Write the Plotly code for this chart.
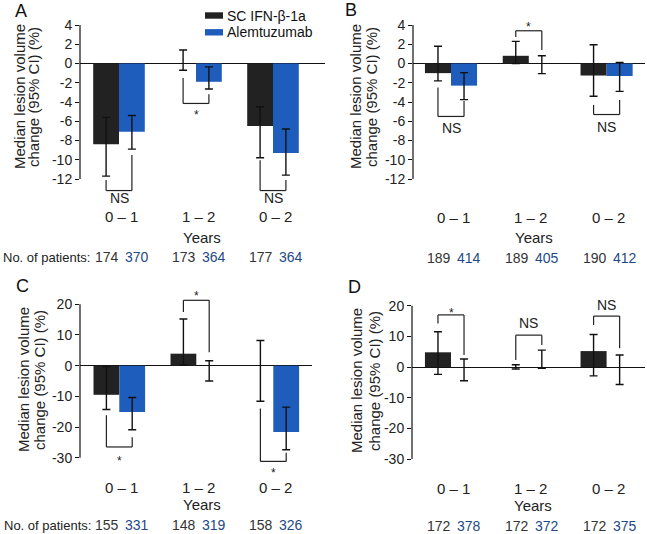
import plotly.graph_objects as go

W, H = 647, 534

periods = ["0 – 1", "1 – 2", "0 – 2"]
series_names = ["SC IFN-β-1a", "Alemtuzumab"]

# ---- data (median % change, 95% CI bounds, patient numbers) ----
a_ifn = [-8.4, 0.0, -6.5]
a_ifn_hi = [-5.6, 1.4, -4.5]
a_ifn_lo = [-11.7, -0.7, -9.8]
a_alem = [-7.1, -1.9, -9.3]
a_alem_hi = [-5.4, -0.35, -6.8]
a_alem_lo = [-8.9, -2.65, -11.6]
a_n_ifn = [174, 173, 177]
a_n_alem = [370, 364, 364]
a_sig = ["NS", "*", "NS"]

b_ifn = [-1.0, 0.8, -1.25]
b_ifn_hi = [1.8, 2.3, 1.95]
b_ifn_lo = [-1.8, 0.0, -3.4]
b_alem = [-2.3, 0.0, -1.3]
b_alem_hi = [-0.95, 0.8, 0.1]
b_alem_lo = [-3.75, -1.05, -2.9]
b_n_ifn = [189, 189, 190]
b_n_alem = [414, 405, 412]
b_sig = ["NS", "*", "NS"]

c_ifn = [-9.5, 3.9, 0.0]
c_ifn_hi = [-0.3, 15.2, 8.2]
c_ifn_lo = [-14.3, 0.2, -11.6]
c_alem = [-15.1, 0.0, -21.6]
c_alem_hi = [-10.4, 1.6, -13.5]
c_alem_lo = [-20.9, -5.0, -27.4]
c_n_ifn = [155, 148, 158]
c_n_alem = [331, 319, 326]
c_sig = ["*", "*", "*"]

d_ifn = [4.8, 0.0, 5.2]
d_ifn_hi = [11.5, 0.75, 10.6]
d_ifn_lo = [-2.4, -0.65, -2.9]
d_alem = [0.0, 0.0, 0.0]
d_alem_hi = [2.6, 5.5, 3.9]
d_alem_lo = [-4.5, -0.45, -5.7]
d_n_ifn = [172, 172, 172]
d_n_alem = [378, 372, 375]
d_sig = ["*", "NS", "NS"]

ab_tickvals = [4, 2, 0, -2, -4, -6, -8, -10, -12]
ab_ticktext = ["4", "2", "0", "-2", "-4", "-6", "-8", "-10", "-12"]
cd_tickvals = [20, 10, 0, -10, -20, -30]
cd_ticktext = ["20", "10", "0", "-10", "-20", "-30"]

# ---- layout / placement (pixels) ----
BLACK = "#222222"
BLUE = "#1f5dbd"
NAVY = "#1d4a86"
FONT = "Liberation Sans, Arial, sans-serif"
BARGAP = 0.33

panels = [
    dict(letter="A", ifn=a_ifn, ifn_hi=a_ifn_hi, ifn_lo=a_ifn_lo,
         alem=a_alem, alem_hi=a_alem_hi, alem_lo=a_alem_lo,
         n_ifn=a_n_ifn, n_alem=a_n_alem, sig=a_sig,
         tv=ab_tickvals, tt=ab_ticktext,
         xpx=(80, 325), c0=119, sp=77, ytop=(4, 25), ybot=(-12, 179), dom=(18, 205),
         # bracket: (level, left leg start, right leg start, label y)
         br=[(-13.2, -12.1, -9.5, -14.0), (-4.15, -1.5, -3.2, -5.0), (-13.2, -10.05, -12.1, -14.0)],
         letter_pos=(21, 11), title_x=(19, 33), title_y=97,
         cat_y=216, years=(202, 237), n_y=257, npat=92),
    dict(letter="B", ifn=b_ifn, ifn_hi=b_ifn_hi, ifn_lo=b_ifn_lo,
         alem=b_alem, alem_hi=b_alem_hi, alem_lo=b_alem_lo,
         n_ifn=b_n_ifn, n_alem=b_n_alem, sig=b_sig,
         tv=ab_tickvals, tt=ab_ticktext,
         xpx=(413, 645), c0=451, sp=77.8, ytop=(4, 25), ybot=(-12, 179), dom=(18, 205),
         br=[(-5.5, -2.5, -3.9, -6.7), (3.4, 2.75, 1.4, 4.1), (-5.3, -4.3, -3.8, -6.6)],
         letter_pos=(351, 10), title_x=(355, 371), title_y=97,
         cat_y=217, years=(534, 237), n_y=258, npat=None),
    dict(letter="C", ifn=c_ifn, ifn_hi=c_ifn_hi, ifn_lo=c_ifn_lo,
         alem=c_alem, alem_hi=c_alem_hi, alem_lo=c_alem_lo,
         n_ifn=c_n_ifn, n_alem=c_n_alem, sig=c_sig,
         tv=cd_tickvals, tt=cd_ticktext,
         xpx=(80, 312), c0=119.3, sp=77, ytop=(20, 304.3), ybot=(-30, 457.7), dom=(283, 475),
         br=[(-26.5, -16.2, -23.3, -30.0), (21.3, 17.5, 4.4, 23.8), (-31.2, -14.0, -28.4, -33.9)],
         letter_pos=(22, 286), title_x=(23, 39), title_y=380,
         cat_y=487, years=(202, 504), n_y=525, npat=93),
    dict(letter="D", ifn=d_ifn, ifn_hi=d_ifn_hi, ifn_lo=d_ifn_lo,
         alem=d_alem, alem_hi=d_alem_hi, alem_lo=d_alem_lo,
         n_ifn=d_n_ifn, n_alem=d_n_alem, sig=d_sig,
         tv=cd_tickvals, tt=cd_ticktext,
         xpx=(412, 645), c0=451, sp=77.8, ytop=(20, 305.7), ybot=(-30, 459), dom=(283, 475),
         br=[(17.0, 14.2, 3.9, 18.6), (10.4, 2.3, 7.2, 14.2), (16.6, 13.7, 6.1, 20.2)],
         letter_pos=(354, 287), title_x=(356, 374), title_y=381,
         cat_y=488, years=(533, 505), n_y=526, npat=None),
]

fig = go.Figure()
shapes, annots = [], []
layout_axes = {}
bw = (1 - BARGAP) / 2
xs = [0, 1, 2]


def px_x(p):
    return p / W


def px_y(p):
    return 1 - p / H


def txt(**kw):
    d = dict(showarrow=False, xanchor="center", yanchor="middle")
    d.update(kw)
    return d


for i, P in enumerate(panels):
    k = "" if i == 0 else str(i + 1)
    xa, ya = "x" + k, "y" + k
    for name, vals, hi, lo, col in [
        (series_names[0], P["ifn"], P["ifn_hi"], P["ifn_lo"], BLACK),
        (series_names[1], P["alem"], P["alem_hi"], P["alem_lo"], BLUE),
    ]:
        fig.add_trace(go.Bar(
            x=xs, y=vals, name=name, marker=dict(color=col, line=dict(width=0)),
            error_y=dict(type="data", symmetric=False,
                         array=[h - v for h, v in zip(hi, vals)],
                         arrayminus=[v - l for v, l in zip(vals, lo)],
                         color="#111111", thickness=1.4, width=4),
            xaxis=xa, yaxis=ya, showlegend=False, hoverinfo="skip"))

    # axes
    xl, xr = P["xpx"]
    xrng = [(xl - P["c0"]) / P["sp"], (xr - P["c0"]) / P["sp"]]
    (vt, pt), (vb, pb) = P["ytop"], P["ybot"]
    s = (pb - pt) / (vt - vb)
    T, B = P["dom"]
    yrng = [vb - (B - pb) / s, vt + (pt - T) / s]
    layout_axes["xaxis" + k] = dict(domain=[px_x(xl), px_x(xr)], range=xrng, visible=False,
                                    anchor=ya, fixedrange=True)
    layout_axes["yaxis" + k] = dict(domain=[px_y(B), px_y(T)], range=yrng, anchor=xa,
                                    showgrid=False, showline=False, zeroline=True,
                                    zerolinecolor="#111111", zerolinewidth=1.3,
                                    ticks="outside", ticklen=4, tickwidth=1.2, tickcolor="#111111",
                                    tickvals=P["tv"], ticktext=P["tt"],
                                    tickfont=dict(size=14, color="#222222", family=FONT),
                                    fixedrange=True)
    # y axis line
    shapes.append(dict(type="line", xref="paper", yref=ya, x0=px_x(xl), x1=px_x(xl),
                       y0=min(P["tv"]), y1=max(P["tv"]), line=dict(color="#111111", width=1.2)))

    # significance brackets
    for g, (lev, lstart, rstart, ly) in enumerate(P["br"]):
        xl_leg, xr_leg = g - bw / 2, g + bw / 2
        for x0, y0 in [(xl_leg, lstart), (xr_leg, rstart)]:
            shapes.append(dict(type="line", xref=xa, yref=ya, x0=x0, x1=x0, y0=y0, y1=lev,
                               line=dict(color="#222222", width=1.2)))
        shapes.append(dict(type="line", xref=xa, yref=ya, x0=xl_leg, x1=xr_leg, y0=lev, y1=lev,
                           line=dict(color="#222222", width=1.2)))
        lab = P["sig"][g]
        annots.append(txt(xref=xa, yref=ya, x=g, y=ly, text=lab,
                          font=dict(size=14 if lab == "NS" else 12, color="#222222", family=FONT),
                          yshift=(0 if lab == "NS" else -3)))

    # category labels and patient numbers
    for g in xs:
        annots.append(txt(xref=xa, yref="paper", x=g, y=px_y(P["cat_y"]), text=periods[g],
                          xshift=2, font=dict(size=15, color="#222222", family=FONT)))
        annots.append(txt(xref=xa, yref="paper", x=g - bw / 2, y=px_y(P["n_y"]),
                          text=str(P["n_ifn"][g]), xshift=1,
                          font=dict(size=14, color="#333333", family=FONT)))
        annots.append(txt(xref=xa, yref="paper", x=g + bw / 2, y=px_y(P["n_y"]),
                          text=str(P["n_alem"][g]), xshift=5,
                          font=dict(size=14, color=NAVY, family=FONT)))
    annots.append(txt(xref="paper", yref="paper", x=px_x(P["years"][0]), y=px_y(P["years"][1]),
                      text="Years", font=dict(size=15, color="#222222", family=FONT)))
    if P["npat"]:
        annots.append(txt(xref="paper", yref="paper", x=px_x(P["npat"]), y=px_y(P["n_y"]),
                          xanchor="right", text="No. of patients:",
                          font=dict(size=13, color="#222222", family=FONT)))
    # y-axis title (two lines)
    for line_txt, tx in zip(["Median lesion volume", "change (95% CI) (%)"], P["title_x"]):
        annots.append(txt(xref="paper", yref="paper", x=px_x(tx), y=px_y(P["title_y"]),
                          text=line_txt, textangle=-90,
                          font=dict(size=15, color="#222222", family=FONT)))
    # panel letter
    annots.append(txt(xref="paper", yref="paper", x=px_x(P["letter_pos"][0]),
                      y=px_y(P["letter_pos"][1]), text=P["letter"],
                      font=dict(size=18, color="#111111", family=FONT)))

# legend (manual)
for yc, col, name in [(15.5, BLACK, series_names[0]), (32.3, BLUE, series_names[1])]:
    shapes.append(dict(type="rect", xref="paper", yref="paper",
                       x0=px_x(205), x1=px_x(223), y0=px_y(yc + 3.2), y1=px_y(yc - 3.2),
                       fillcolor=col, line=dict(width=0)))
    annots.append(txt(xref="paper", yref="paper", x=px_x(225), y=px_y(yc), xanchor="left",
                      text=name, font=dict(size=14, color="#111111", family=FONT)))

fig.update_layout(
    width=W, height=H, margin=dict(l=0, r=0, t=0, b=0),
    paper_bgcolor="white", plot_bgcolor="white",
    barmode="group", bargap=BARGAP, bargroupgap=0,
    showlegend=False, shapes=shapes, annotations=annots,
    font=dict(family=FONT, color="#222222"),
    **layout_axes,
)

fig.write_html("out.html", config={"displayModeBar": False},
               post_script="document.body.style.margin='0';document.body.style.padding='0';"
                           "document.body.style.overflow='hidden';")
